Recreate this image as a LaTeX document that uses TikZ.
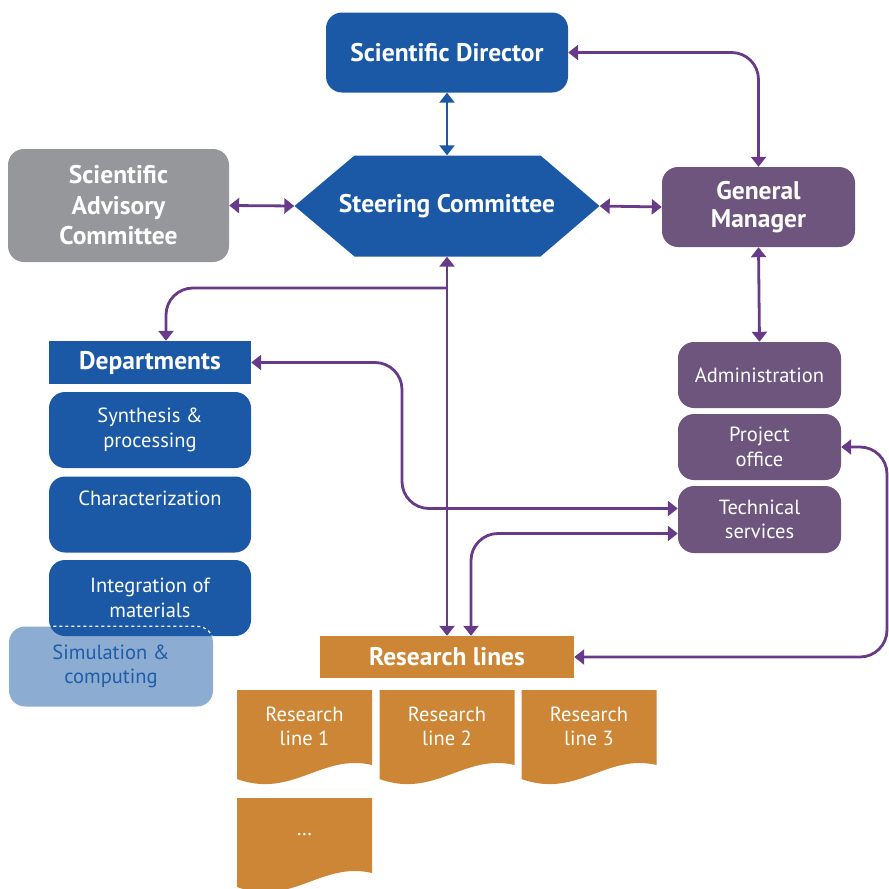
\documentclass[tikz,border=0pt]{standalone}
\usepackage{fontspec}
\setmainfont{PT Sans}
\usetikzlibrary{arrows.meta}

\definecolor{sdblue}{RGB}{27,89,167}
\definecolor{sagrey}{RGB}{150,151,154}
\definecolor{gmpurple}{RGB}{109,85,126}
\definecolor{linkpurple}{RGB}{104,59,138}
\definecolor{rlorange}{RGB}{205,134,53}
\definecolor{simblue}{RGB}{140,172,210}
\definecolor{simtext}{RGB}{31,93,170}

\begin{document}
\begin{tikzpicture}[
x=1pt,y=-1pt,
>={Triangle[width=15pt,length=10pt]},
bigfont/.style={font=\fontsize{25.5}{28}\selectfont\bfseries},
smallfont/.style={font=\fontsize{20.5}{24.5}\selectfont},
box/.style={
  rounded corners=16pt,
  align=center,
  text=white,
  inner sep=0pt
  },
bluebox/.style={box,fill=sdblue},
purplebox/.style={box,fill=gmpurple,smallfont,minimum width=163pt,minimum height=66pt},
deptbox/.style={bluebox,smallfont,minimum width=202pt,minimum height=76pt},
hexbox/.style={
  align=center,
  text=white,
  inner sep=0pt,
  path picture={\fill[sdblue] (path picture bounding box.west)
    -- ([xshift=60pt]path picture bounding box.north west)
    -- ([xshift=-59pt]path picture bounding box.north east)
    -- (path picture bounding box.east)
    -- ([xshift=-59pt]path picture bounding box.south east)
    -- ([xshift=60pt]path picture bounding box.south west) -- cycle;}
  },
docbox/.style={
  minimum width=135pt,
  minimum height=95pt,
  inner sep=0pt,
  path picture={\fill[rlorange] (path picture bounding box.north west)
    -- (path picture bounding box.north east)
    -- ([yshift=20pt]path picture bounding box.south east)
    .. controls ([shift={(85pt,32pt)}]path picture bounding box.south west)
    and ([shift={(55pt,-14pt)}]path picture bounding box.south west)
    .. ([yshift=6pt]path picture bounding box.south west) -- cycle;}
  },
doctext/.style={smallfont,text=white,align=center,inner sep=0pt},
link/.style={draw=linkpurple,line width=2.8pt,<->,rounded corners=27pt},
bluelink/.style={link,draw=sdblue}
]
\useasboundingbox (0,0) rectangle (889,889);
\clip (0,0) rectangle (889,889);

% top level
\node[bluebox,bigfont,minimum width=242pt,minimum height=80pt] (sd) at (447,52.5) {Scientific Director};
\node[hexbox,bigfont,minimum width=305pt,minimum height=101pt] (sc) at (447,206) {Steering Committee};
\node[box,fill=sagrey,font=\fontsize{25.5}{30.5}\selectfont\bfseries,minimum width=221pt,minimum height=113pt] (sac) at (118.5,205.5) {Scientific\\Advisory\\Committee};
\node[box,fill=gmpurple,bigfont,minimum width=193pt,minimum height=80pt] (gm) at (758.5,207) {General\\Manager};

% management
\node[purplebox] (admin) at (759.5,375) {Administration};
\node[purplebox] (po) at (759.5,447) {Project\\office};
\node[purplebox,minimum height=67pt] (ts) at (759.5,519.5) {Technical\\services};

% departments
\node[bluebox,bigfont,rounded corners=0pt,minimum width=202pt,minimum height=43pt] (dept) at (150,362.5) {Departments};
\node[deptbox] (syn) at (150,430) {Synthesis \&\\processing};
\node[deptbox] (char) at (150,514.5) {Characterization\\[8pt]\phantom{x}};
\node[box,fill=simblue,text=simtext,smallfont,minimum width=204pt,minimum height=80pt] (sim) at (111,666.5) {Simulation \&\\computing};
\node[deptbox] (integ) at (150,598) {Integration of\\materials};
\begin{scope}
\clip[rounded corners=16pt] (integ.south west) rectangle (integ.north east);
\draw[white,dashed,line width=1.2pt,rounded corners=16pt] (sim.south west) rectangle (sim.north east);
\end{scope}

% research lines
\node[fill=rlorange,text=white,bigfont,minimum width=254pt,minimum height=42pt,inner sep=0pt] (rl) at (447,657) {Research lines};
\foreach \n/\x/\y/\txt in {1/304.5/737.5/{Research\\line 1},2/447/737.5/{Research\\line 2},3/589/737.5/{Research\\line 3},4/304.5/845.5/{\dots}}{
  \node[docbox] (line\n) at (\x,\y) {};
  \node[doctext] (text\n) at ([yshift=11pt]line\n.center) {\txt};
}

% connectors
\draw[bluelink] (sd.south) -- (sc.north);
\draw[link] (sac.east) -- (sc.west);
\draw[link] (sc.east) -- (gm.west);
\draw[link] (sd.east) -| (gm.north);
\draw[link] (gm.south) -- (admin.north);
\draw[link] (sc.south) -- (rl.north);
\coordinate (split) at (447,288);
\draw[link,-{>}] (split) -| ([xshift=16pt]dept.north);
\coordinate (dbend) at (402,430);
\draw[link] (dept.east) -| (dbend) |- ([yshift=11pt]ts.west);
\draw[link] ([xshift=24pt]rl.north) |- ([yshift=-14pt]ts.west);
\coordinate (rbend) at (887,550);
\draw[link] (rl.east) -| (rbend) |- (po.east);
\end{tikzpicture}
\end{document}
